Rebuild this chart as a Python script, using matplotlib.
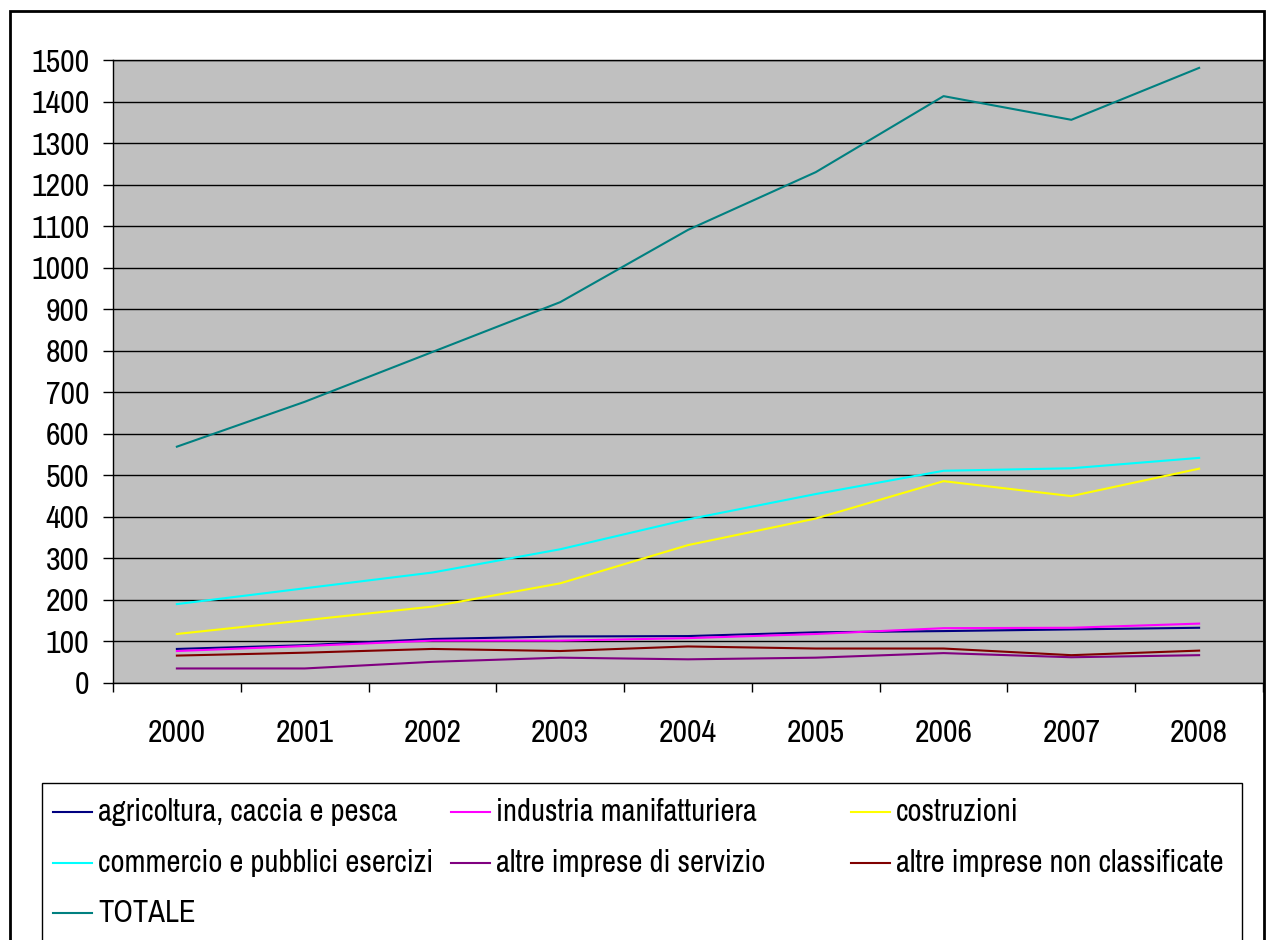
import numpy as np
import matplotlib
matplotlib.use("Agg")
import matplotlib.pyplot as plt
from matplotlib import font_manager
from matplotlib.lines import Line2D
from matplotlib.patches import Rectangle

# the chart uses Arial Narrow: pick the closest narrow sans that is installed
installed = {f.name for f in font_manager.fontManager.ttflist}
narrow = None
for nm in ['Liberation Sans Narrow', 'Arial Narrow', 'Nimbus Sans Narrow',
           'Archivo Narrow', 'Roboto Condensed', 'PT Sans Narrow']:
    if nm in installed:
        narrow = nm
        break
plt.rcParams['font.family'] = [narrow or 'Liberation Sans', 'Liberation Sans', 'DejaVu Sans']

# data
years = ['2000', '2001', '2002', '2003', '2004', '2005', '2006', '2007', '2008']
agricoltura = [82, 91, 106, 112, 113, 122, 125, 129, 133]
industria = [77, 89, 102, 102, 108, 118, 132, 133, 143]
costruzioni = [118, 151, 184, 240, 332, 396, 486, 450, 516]
commercio = [190, 228, 266, 322, 394, 455, 511, 517, 542]
servizio = [35, 35, 51, 61, 57, 61, 72, 62, 67]
non_classificate = [66, 73, 82, 77, 88, 83, 83, 67, 78]
totale = [569, 677, 797, 917, 1091, 1230, 1413, 1356, 1481]

names = ['agricoltura, caccia e pesca', 'industria manifatturiera', 'costruzioni',
         'commercio e pubblici esercizi', 'altre imprese di servizio',
         'altre imprese non classificate', 'TOTALE']
series = [agricoltura, industria, costruzioni, commercio, servizio, non_classificate, totale]
colors = ['#000080', '#FF00FF', '#FFFF00', '#00FFFF', '#800080', '#800000', '#008080']

W, H = 1266, 940
fig = plt.figure(figsize=(W / 100, H / 100), dpi=100)
fig.patch.set_facecolor('white')

ax = fig.add_axes([113 / W, 1 - 683 / H, (1263 - 113) / W, (683 - 60) / H])
ax.set_facecolor('#C0C0C0')

x = np.arange(len(years))
for i, (vals, c) in enumerate(zip(series, colors)):
    ax.plot(x, vals, color=c, lw=1.5, zorder=3 + i)

ax.set_ylim(0, 1500)
ax.set_yticks(range(0, 1501, 100))
ax.set_xlim(-0.5, len(years) - 0.5)
ax.set_xticks(np.arange(-0.5, len(years), 1))
ax.set_xticklabels([])
ax.set_xticks(x, minor=True)
ax.set_xticklabels(years, minor=True)
ax.grid(axis='y', color='black', lw=1, zorder=1)
ax.set_axisbelow(True)

ax.tick_params(axis='y', direction='out', length=7, width=1, pad=10, labelsize=23)
ax.tick_params(axis='x', which='major', direction='out', length=6.5, width=1)
ax.tick_params(axis='x', which='minor', length=0, pad=26, labelsize=23)

for s in ['left', 'bottom', 'top']:
    ax.spines[s].set_color('black')
    ax.spines[s].set_linewidth(1)
ax.spines['right'].set_color('#808080')

# outer chart frame
fig.add_artist(Rectangle((10 / W, -0.05), (1264 - 10) / W, 1 - 11 / H + 0.05,
                         transform=fig.transFigure, fill=False, ec='black', lw=2))

# legend box, Excel style (rows filled left to right)
fig.add_artist(Rectangle((42 / W, -0.05), (1242 - 42) / W, 1 - 783 / H + 0.05,
                         transform=fig.transFigure, fill=False, ec='black', lw=1))
col_x = [53, 451, 851]
row_y = [812, 863, 913]
for k, (name, c) in enumerate(zip(names, colors)):
    cx = col_x[k % 3]
    ry = row_y[k // 3]
    fig.add_artist(Line2D([cx / W, (cx + 39) / W], [1 - ry / H, 1 - ry / H],
                          transform=fig.transFigure, color=c, lw=1.5))
    fig.text((cx + 45) / W, 1 - ry / H, name, fontsize=22, va='center', ha='left')

fig.savefig('out.png', dpi=100)
